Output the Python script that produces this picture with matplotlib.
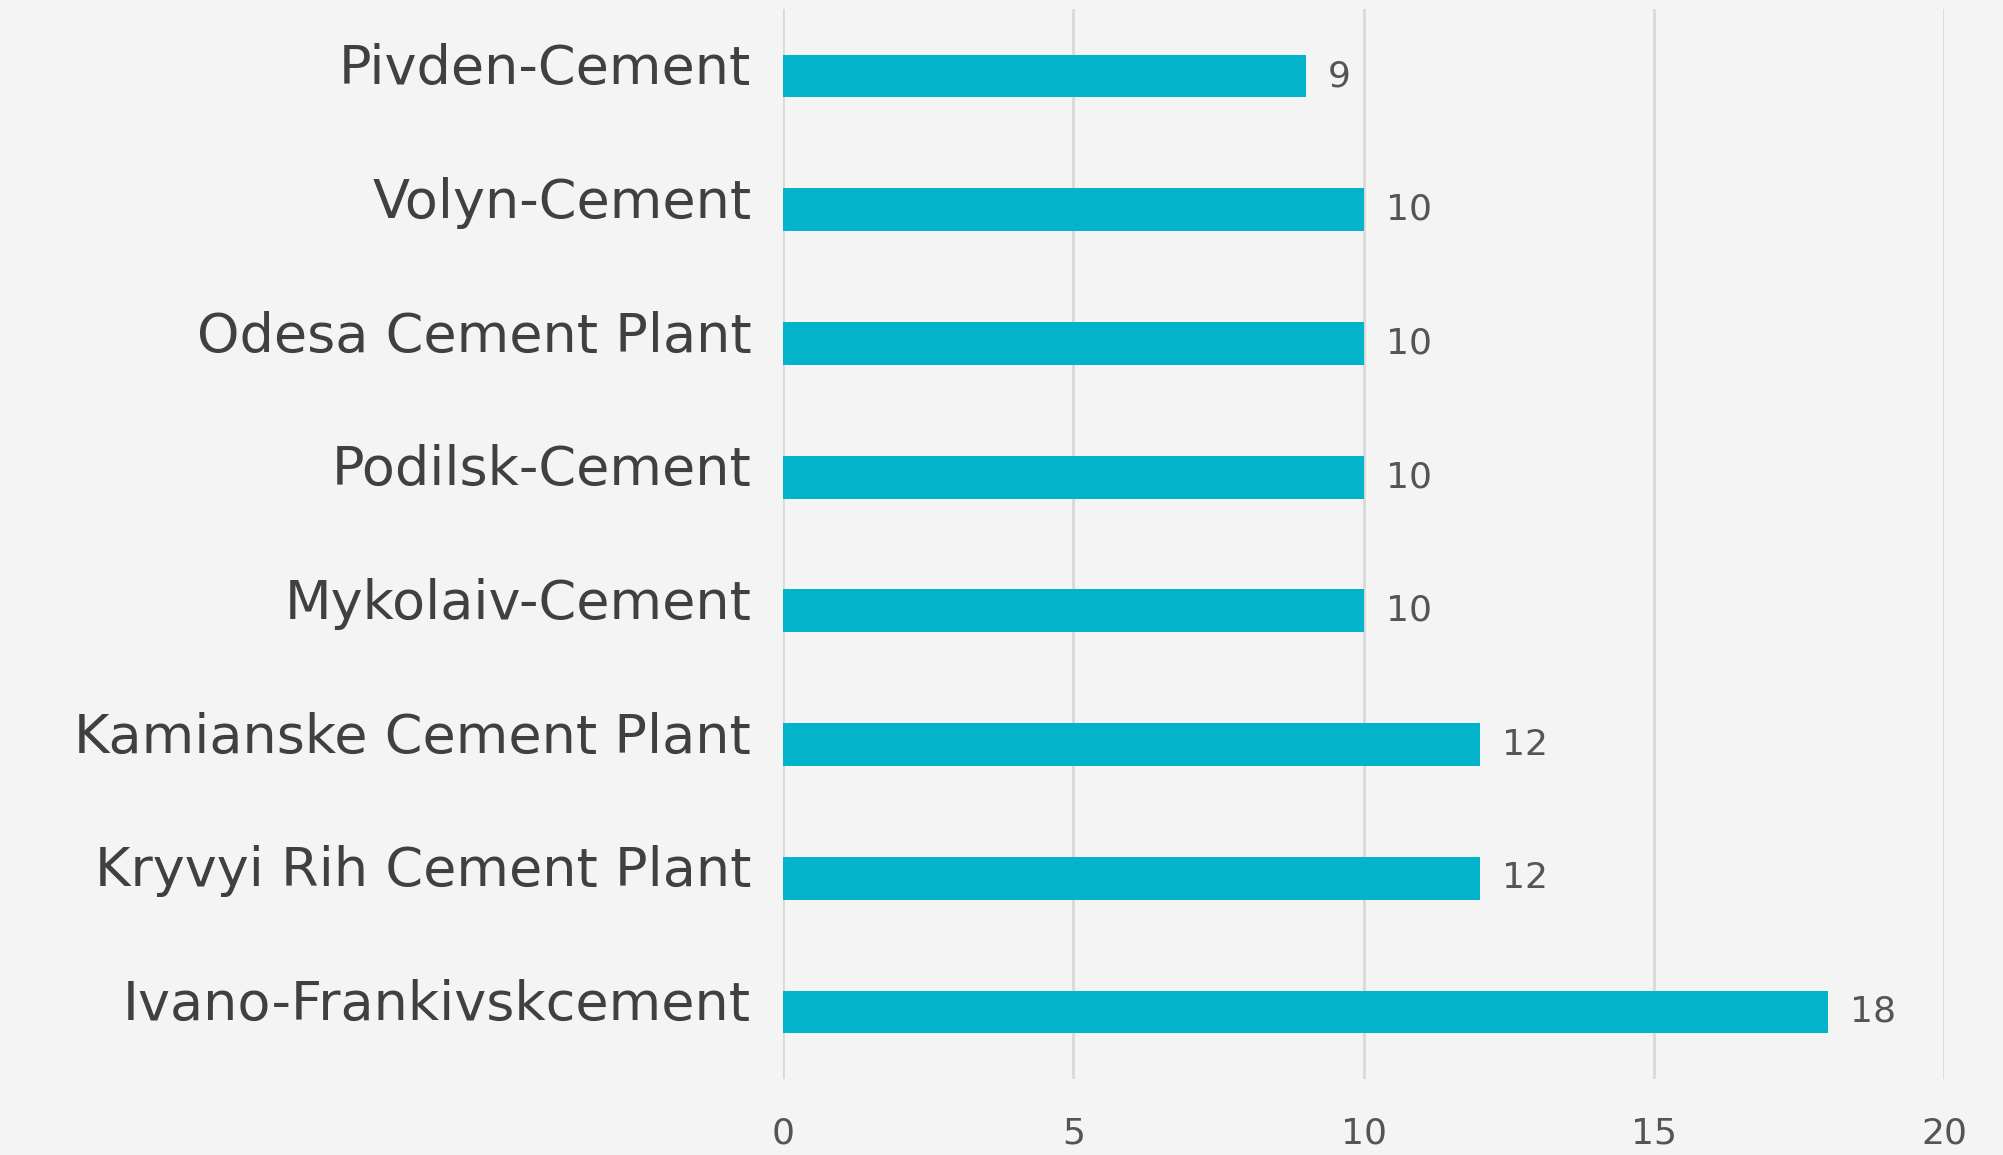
import matplotlib
matplotlib.use('Agg')
import matplotlib.pyplot as plt
from matplotlib.transforms import ScaledTranslation

plants = ['Pivden-Cement', 'Volyn-Cement', 'Odesa Cement Plant', 'Podilsk-Cement',
          'Mykolaiv-Cement', 'Kamianske Cement Plant', 'Kryvyi Rih Cement Plant',
          'Ivano-Frankivskcement']
values = [9, 10, 10, 10, 10, 12, 12, 18]
xticks = [0, 5, 10, 15, 20]

bg = '#f4f4f4'
bar_col = '#02b3c9'

fig = plt.figure(figsize=(20.03, 11.55), dpi=100, facecolor=bg)
ax = fig.add_axes([0.391, 0.066, 0.5797, 0.926])
ax.set_facecolor(bg)

ypos = list(range(len(plants)))
ax.barh(ypos, values, height=0.32, color=bar_col, zorder=3)
for y, v in zip(ypos, values):
    ax.text(v + 0.38, y, str(v), va='center', ha='left', fontsize=26, color='#555555')

ax.set_xlim(0, 20)
ax.set_ylim(7.5, -0.5)
ax.set_yticks(ypos)
ax.set_yticklabels(plants, fontsize=39, color='#404040')
ax.set_xticks(xticks)
ax.set_xticklabels([str(t) for t in xticks], fontsize=26, color='#555555')
ax.tick_params(axis='y', length=0, pad=23)
ax.tick_params(axis='x', length=0, pad=27)
ax.grid(axis='x', color='#d8d8d8', linewidth=2, zorder=0)
for s in ax.spines.values():
    s.set_visible(False)

# names sit a little above the bar centre in the original
shift = ScaledTranslation(0, 9 / 72, fig.dpi_scale_trans)
for lab in ax.get_yticklabels():
    lab.set_transform(lab.get_transform() + shift)

fig.savefig('out.png', dpi=100, facecolor=bg)
